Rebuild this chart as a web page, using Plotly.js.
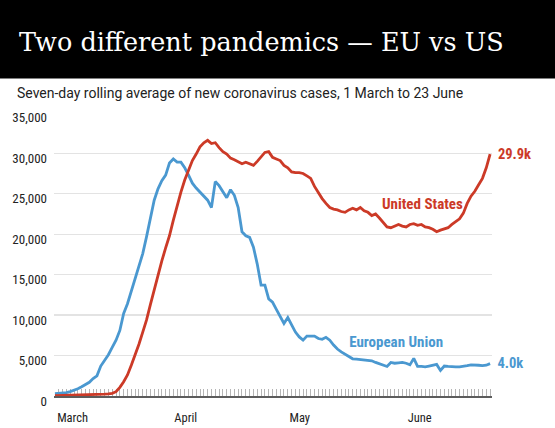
<!DOCTYPE html>
<html><head><meta charset="utf-8">
<script src="https://cdn.plot.ly/plotly-3.0.1.min.js"></script>
<style>
html,body{margin:0;padding:0;background:#fff;}
#chart{width:555px;height:428px;}
#chart text.annotation-text, #chart .ytick text { font-stretch: 75%; }
#chart .annotation[data-index="4"] text.annotation-text { font-stretch: 100%; }
</style>
</head><body><div id="chart"></div>
<script>
// Seven-day rolling average of new cases, one value per day from 1 March 2020 to 23 June 2020
const startDate = '2020-03-01';
const euCases = [
  300,330,380,430,550,700,900,1150,1400,1700,
  2150,2500,3700,4400,5100,6000,6900,8100,10200,11400,
  12900,14300,16000,17600,19700,22100,24200,25600,26600,27300,
  28800,29300,28900,28900,28200,27300,26300,25700,25200,24700,
  24200,23300,26500,26000,25300,24500,25500,24800,23300,20300,
  19800,19600,18400,16300,13700,13700,12000,11600,10700,9900,
  8970,9700,8700,7900,7300,6900,7400,7400,7400,7100,
  7000,7250,6900,6300,5800,5450,5200,4900,4600,4550,
  4500,4400,4400,4350,4150,4000,3850,3650,4150,4050,
  4100,4150,4050,3850,4650,3650,3650,3600,3700,3800,
  3900,3150,3700,3650,3600,3600,3600,3650,3750,3850,
  3850,3800,3750,3800,4000
];
const usCases = [
  30,40,50,60,70,80,90,100,120,140,
  160,180,200,230,270,330,530,1070,1770,2600,
  3800,5000,6400,7900,9400,11300,13200,15000,16700,18300,
  19800,21700,23500,25200,26700,28000,29100,29900,30800,31300,
  31600,31200,31300,30700,30200,29900,29400,29200,29000,28700,
  28900,28700,28500,29000,29600,30100,30200,29500,29300,29100,
  28500,28200,27700,27600,27600,27500,27200,26900,25900,25100,
  24400,23800,23300,23100,23000,22800,22700,23000,23200,23000,
  23300,22900,22700,22300,22500,22000,21500,20900,20800,21000,
  21200,21000,20900,21200,21300,21100,21200,20900,20800,20600,
  20300,20500,20700,20800,21200,21500,21900,22600,23800,24700,
  25300,26100,26900,28200,29900
];
const monthLabels = ['March','April','May','June'];
const monthStarts = ['2020-03-01','2020-04-01','2020-05-01','2020-06-01'];
const yTickVals = [0,5000,10000,15000,20000,25000,30000,35000];
const seriesNames = ['European Union','United States'];
const endLabels = ['4.0k','29.9k'];

function dayDates(start, n){
  const t0 = new Date(start + 'T00:00:00Z').getTime();
  const out = [];
  for (let i = 0; i < n; i++) out.push(new Date(t0 + i*86400000).toISOString().slice(0,10));
  return out;
}
const dates = dayDates(startDate, euCases.length);

const BLUE = '#4a98d0', RED = '#cc3a27';
const COND = 'Roboto, sans-serif';

const traces = [
  {x: dates, y: euCases, type:'scatter', mode:'lines', name: seriesNames[0],
   line:{color:BLUE, width:2.8}, hoverinfo:'skip'},
  {x: dates, y: usCases, type:'scatter', mode:'lines', name: seriesNames[1],
   line:{color:RED, width:2.8}, hoverinfo:'skip'}
];

const W = 555, H = 428, L = 54, R = 63, T = 112, B = 32;
const PH = H - T - B, PW = W - L - R;
const py = px => (H - B - px) / PH;   // pixel y -> paper y
const pxx = px => (px - L) / PW;      // pixel x -> paper x

const annotations = [];
monthLabels.forEach((m, i) => annotations.push({
  text: m, x: monthStarts[i], xref:'x', xanchor:'left', xshift:-2, y: py(417), yref:'paper', yanchor:'middle',
  showarrow:false, font:{family:COND, size:12.5, color:'#222'}
}));
annotations.push({
  text: 'Seven-day rolling average of new coronavirus cases, 1 March to 23 June',
  x: pxx(15), xref:'paper', xanchor:'left', y: py(93), yref:'paper', yanchor:'middle',
  showarrow:false, font:{family:'Roboto, sans-serif', size:14, color:'#222'}
});
annotations.push({
  text: '<b>' + endLabels[0] + '</b>', x: dates[dates.length-1], xref:'x', y: euCases[euCases.length-1], yref:'y',
  xanchor:'left', yanchor:'middle', xshift:4, showarrow:false, font:{family:COND, size:14.5, color:BLUE}
});
annotations.push({
  text: '<b>' + endLabels[1] + '</b>', x: dates[dates.length-1], xref:'x', y: usCases[usCases.length-1], yref:'y',
  xanchor:'left', yanchor:'middle', xshift:4, showarrow:false, font:{family:COND, size:14.5, color:RED}
});
annotations.push({
  text: '<b>' + seriesNames[1] + '</b>', x: pxx(422.5), xref:'paper', y: py(204), yref:'paper',
  xanchor:'center', yanchor:'middle', showarrow:false, font:{family:COND, size:15, color:RED}
});
annotations.push({
  text: '<b>' + seriesNames[0] + '</b>', x: pxx(396), xref:'paper', y: py(342), yref:'paper',
  xanchor:'center', yanchor:'middle', showarrow:false, font:{family:COND, size:15, color:BLUE}
});

const layout = {
  width: W, height: H,
  margin: {l:L, r:R, t:T, b:B, pad:0},
  paper_bgcolor:'#fff', plot_bgcolor:'#fff',
  showlegend:false,
  title: {
    text: 'Two different pandemics — EU vs US',
    font: {family:'DejaVu Serif, Liberation Serif, serif', size:25.5, color:'#fff'},
    xref:'container', x: 19/W, xanchor:'left',
    yref:'container', y: 1 - 42/H, yanchor:'middle'
  },
  shapes: [{
    type:'rect', xref:'paper', yref:'paper', x0: pxx(-5), x1: pxx(W+5), y0: py(78.5), y1: py(-5),
    fillcolor:'#000', line:{width:0}, layer:'below'
  }],
  xaxis: {
    type:'date', range:['2020-02-29 18:00','2020-06-23 12:00'],
    tickmode:'linear', tick0: startDate, dtick: 86400000,
    ticks:'inside', ticklen:7, tickwidth:1, tickcolor:'#b5b5b5',
    showticklabels:false, showgrid:false, zeroline:false,
    showline:true, linecolor:'#5c5c5c', linewidth:2, layer:'below traces', fixedrange:true
  },
  yaxis: {
    range:[0, 35100], tickmode:'array', tickvals: yTickVals, tickformat:',',
    showgrid:true, gridcolor:'#e3e3e3', gridwidth:1.2, zeroline:false, showline:false,
    ticks:'', ticklabelstandoff:6, ticklabelshift:5,
    tickfont:{family:COND, size:13, color:'#222'}, fixedrange:true
  },
  annotations: annotations
};

Plotly.newPlot('chart', traces, layout, {displayModeBar:false, staticPlot:true});
</script>
</body></html>
